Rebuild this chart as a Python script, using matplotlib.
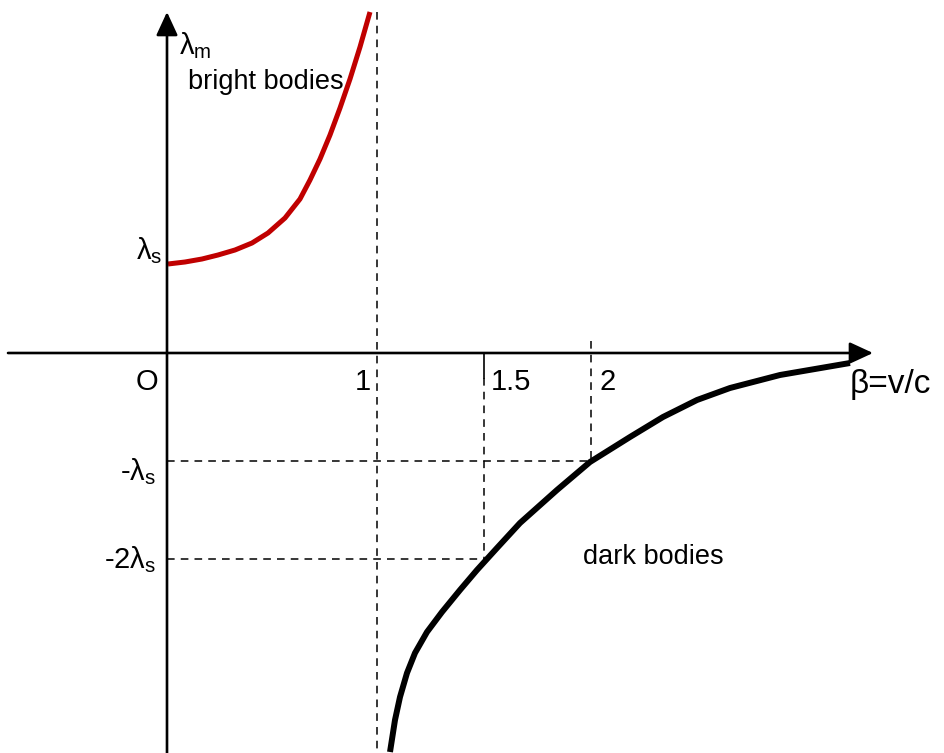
import matplotlib
matplotlib.use("Agg")
import matplotlib.pyplot as plt

plt.rcParams['font.family'] = ['Liberation Sans', 'DejaVu Sans']
plt.rcParams['mathtext.fontset'] = 'custom'
plt.rcParams['mathtext.rm'] = 'Liberation Sans'
plt.rcParams['mathtext.it'] = 'Liberation Sans:italic'

# schematic drawing units (origin at O)
bright_x = [0.01, 0.18, 0.35, 0.51, 0.68, 0.85, 1.01, 1.18, 1.33, 1.43, 1.53, 1.63, 1.73, 1.83, 1.93, 2.03]
bright_y = [0.89, 0.91, 0.94, 0.98, 1.03, 1.10, 1.20, 1.35, 1.54, 1.73, 1.94, 2.18, 2.45, 2.74, 3.06, 3.41]

dark_x = [2.23, 2.28, 2.33, 2.40, 2.48, 2.60, 2.75, 2.93, 3.10, 3.30, 3.53, 3.90, 4.23,
          4.63, 4.96, 5.30, 5.63, 6.13, 6.83]
dark_y = [-3.99, -3.67, -3.44, -3.20, -3.00, -2.79, -2.59, -2.37, -2.17, -1.95, -1.70, -1.37, -1.09,
          -0.84, -0.64, -0.47, -0.35, -0.22, -0.10]

beta_ticks = [2.10, 3.17, 4.24]
beta_labels = ["1", "1.5", "2"]
lam_ticks = [0.90, -1.08, -2.06]
lam_labels = [r"$\mathregular{λ_s}$", "-" + r"$\mathregular{λ_s}$", "-2" + r"$\mathregular{λ_s}$"]

XMIN, XMAX = -1.67, 7.78
YMIN, YMAX = -4.0, 3.53

fig = plt.figure(figsize=(9.45, 7.53), dpi=100)
ax = fig.add_axes([0, 0, 1, 1])
ax.set_xlim(XMIN, XMAX)
ax.set_ylim(YMIN, YMAX)
ax.axis('off')

# axes with arrows
arrow = dict(arrowstyle='-|>,head_length=0.65,head_width=0.3', lw=1.9, color='black',
             shrinkA=0, shrinkB=0, mutation_scale=22)
ax.annotate('', xy=(7.06, 0.0), xytext=(-1.59, 0.0), arrowprops=arrow)
ax.annotate('', xy=(0.0, 3.41), xytext=(0.0, YMIN), arrowprops=arrow)

dash = dict(color='black', lw=1.1, dashes=(5, 4))
# vertical guides
ax.plot([beta_ticks[0]] * 2, [3.41, YMIN], **dash)
ax.plot([beta_ticks[1]] * 2, [0.0, -0.25], color='black', lw=1.2)
ax.plot([beta_ticks[1]] * 2, [-0.25, lam_ticks[2]], **dash)
ax.plot([beta_ticks[2]] * 2, [0.12, lam_ticks[1]], **dash)
# horizontal guides
ax.plot([0, beta_ticks[2]], [lam_ticks[1]] * 2, **dash)
ax.plot([0, beta_ticks[1]], [lam_ticks[2]] * 2, **dash)

# curves
ax.plot(bright_x, bright_y, color='#C00000', lw=3.6, solid_capstyle='butt', solid_joinstyle='round')
ax.plot(dark_x, dark_y, color='black', lw=4.3, solid_capstyle='butt', solid_joinstyle='round')

fs = 21
ax.text(-0.20, -0.29, "O", fontsize=fs, ha='center', va='center')
offsets = [-0.14, 0.27, 0.17]
for x, off, lab in zip(beta_ticks, offsets, beta_labels):
    ax.text(x + off, -0.29, lab, fontsize=fs, ha='center', va='center')
ax.text(7.23, -0.32, "β=v/c", fontsize=24, ha='center', va='center')

lab_y = [1.02, -1.19, -2.07]
lab_x = [-0.05, -0.11, -0.11]
for x, y, lab in zip(lab_x, lab_y, lam_labels):
    ax.text(x, y, lab, fontsize=fs, ha='right', va='center')

ax.text(0.12, 3.07, r"$\mathregular{λ_m}$", fontsize=fs, ha='left', va='center')
ax.text(0.21, 2.71, "bright bodies", fontsize=19.5, ha='left', va='center')
ax.text(4.16, -2.04, "dark bodies", fontsize=19.5, ha='left', va='center')

fig.savefig("out.png", dpi=100)
